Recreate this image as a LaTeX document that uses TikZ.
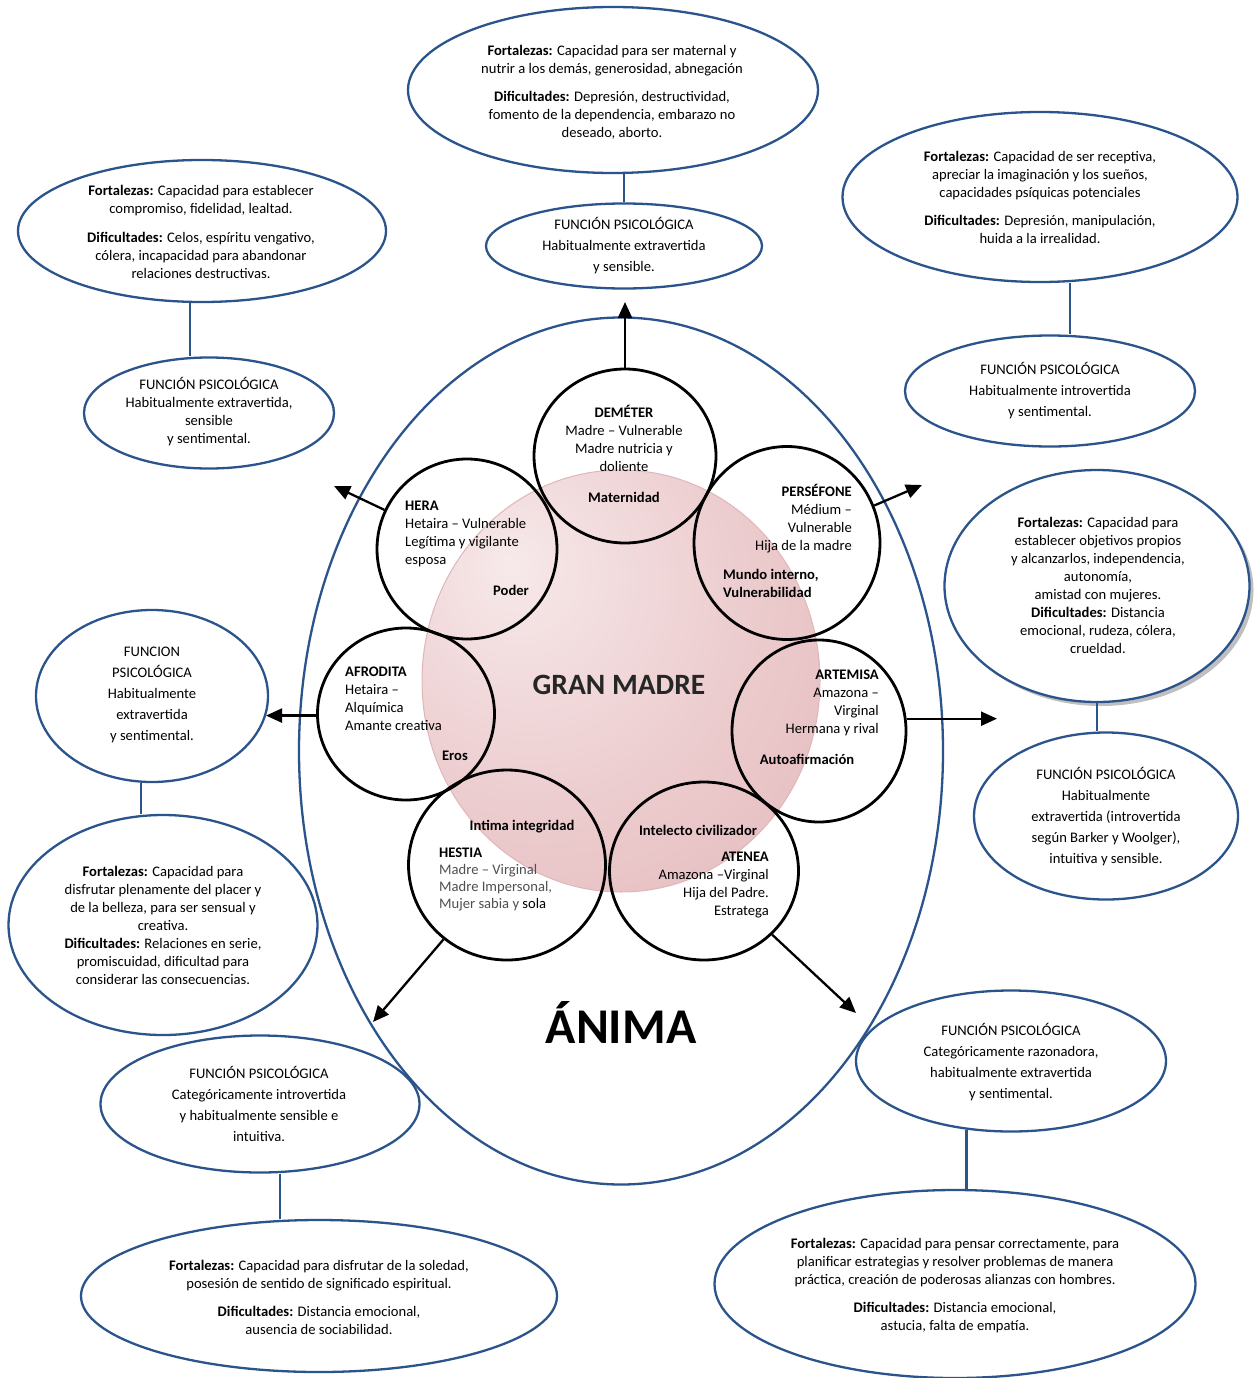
\documentclass[tikz,border=0pt]{standalone}
\usepackage{fontspec}
\setmainfont{Carlito}
\usetikzlibrary{shapes.geometric,arrows.meta,shadows}
\definecolor{ablue}{RGB}{44,84,140}
\definecolor{gmA}{RGB}{247,233,234}
\definecolor{gmB}{RGB}{236,204,206}
\definecolor{gmC}{RGB}{226,180,184}
\definecolor{gmEdge}{RGB}{224,182,185}
\definecolor{hgray}{RGB}{80,80,80}
\definecolor{titlegray}{RGB}{38,38,38}
\pgfdeclareradialshading{granmadre}{\pgfpoint{-14bp}{14bp}}{color(0bp)=(gmA); color(26bp)=(gmB); color(54bp)=(gmC); color(100bp)=(gmC)}

\begin{document}
\begin{tikzpicture}[x=1pt,y=-1pt,
  oval/.style={ellipse, draw=ablue, line width=2.3pt, inner sep=0pt},
  diosa/.style={ellipse, draw=black, line width=2.8pt, inner sep=0pt},
  link/.style={draw=ablue, line width=2.3pt},
  flecha/.style={draw=black, line width=2.3pt, -{Triangle[length=16pt,width=14pt]}},
  body/.style={align=center, inner sep=0pt, font=\fontsize{14.6}{18}\selectfont},
  func/.style={align=center, inner sep=0pt, font=\fontsize{14.6}{21}\selectfont},
  ctext/.style={inner sep=0pt, font=\fontsize{14.6}{18}\selectfont},
  clave/.style={inner sep=0pt, font=\fontsize{14.6}{18}\selectfont\bfseries},
]
\useasboundingbox[fill=white] (0,0) rectangle (1254,1378);

% ---- Ánima (outer ellipse) and Gran Madre (shaded core)
\node[oval, minimum width=644pt, minimum height=867pt] (anima) at (621,751) {};
\node[ellipse, inner sep=0pt, minimum width=398pt, minimum height=422pt,
      shade, shading=granmadre, draw=gmEdge, line width=1pt] (gm) at (621,681) {};
\node[inner sep=0pt, font=\fontsize{29.5}{34}\selectfont\bfseries, text=titlegray] (gmlabel) at (619,685) {GRAN MADRE};
\node[inner sep=0pt, font=\fontsize{50}{60}\selectfont\bfseries] (animalabel) at (621,1022) {ÁNIMA};

% ---- goddess circles
\node[diosa, minimum width=182pt, minimum height=174pt] (demeter)  at (625,456) {};
\node[diosa, minimum width=180pt, minimum height=180pt] (hera)     at (467,549) {};
\node[diosa, minimum width=186pt, minimum height=193pt] (persefone) at (787,543) {};
\node[diosa, minimum width=177pt, minimum height=172pt] (afrodita) at (406,714) {};
\node[diosa, minimum width=174pt, minimum height=182pt] (artemisa) at (819,731) {};
\node[diosa, minimum width=197pt, minimum height=190pt] (hestia)   at (507,865) {};
\node[diosa, minimum width=189pt, minimum height=178pt] (atenea)   at (704,871) {};

% ---- texts inside the circles
\node[ctext, align=center, anchor=north] (demtxt) at (624,405)
  {\textbf{DEMÉTER}\\Madre – Vulnerable\\Madre nutricia y\\doliente};
\node[clave] (demkey) at (624,497) {Maternidad};

\node[ctext, align=left, anchor=north west] (heratxt) at (405,501)
  {\textbf{HERA}\\Hetaira – Vulnerable\\Legítima y vigilante\\esposa};
\node[clave] (herakey) at (511,590) {Poder};

\node[ctext, align=right, anchor=north east] (pertxt) at (852,484)
  {\textbf{PERSÉFONE}\\Médium –\\Vulnerable\\Hija de la madre};
\node[clave, align=left, anchor=north west] (perkey) at (723,569) {Mundo interno,\\Vulnerabilidad};

\node[ctext, align=left, anchor=north west] (afrtxt) at (345,667)
  {\textbf{AFRODITA}\\Hetaira –\\Alquímica\\Amante creativa};
\node[clave] (afrkey) at (455,756) {Eros};

\node[ctext, align=right, anchor=north east] (arttxt) at (879,670)
  {\textbf{ARTEMISA}\\Amazona –\\Virginal\\Hermana y rival};
\node[clave] (artkey) at (807,759) {Autoafirmación};

\node[clave] (heskey) at (522,827) {Intima integridad};
\node[ctext, align=left, anchor=north west, font=\fontsize{14.6}{17}\selectfont] (hestxt) at (439,848)
  {\textbf{HESTIA}\\\textcolor{hgray}{Madre – Virginal}\\\textcolor{hgray}{Madre Impersonal,}\\\textcolor{hgray}{Mujer sabia y} sola};

\node[clave] (atekey) at (698,830) {Intelecto civilizador};
\node[ctext, align=right, anchor=north east] (atetxt) at (769,852)
  {\textbf{ATENEA}\\Amazona –Virginal\\Hija del Padre.\\Estratega};

% ---- Deméter
\node[oval, minimum width=410pt, minimum height=166pt] (demT) at (613,90) {};
\node[body] (demTt) at (612,92)
  {\textbf{Fortalezas:} Capacidad para ser maternal y\\nutrir a los demás, generosidad, abnegación\\[10pt]
   \textbf{Dificultades:} Depresión, destructividad,\\fomento de la dependencia, embarazo no\\deseado, aborto.};
\node[oval, minimum width=276pt, minimum height=85pt] (demF) at (624,246) {};
\node[func] (demFt) at (624,246) {FUNCIÓN PSICOLÓGICA\\Habitualmente extravertida\\y sensible.};
\draw[link] (demF.north) -- (demF.north |- demT.south);
\coordinate (demA) at (625,302);
\draw[flecha] (demeter.north) -- (demA);

% ---- Hera
\node[oval, minimum width=368pt, minimum height=142pt] (heraT) at (202,231) {};
\node[body] (heraTt) at (201,232)
  {\textbf{Fortalezas:} Capacidad para establecer\\compromiso, fidelidad, lealtad.\\[11pt]
   \textbf{Dificultades:} Celos, espíritu vengativo,\\cólera, incapacidad para abandonar\\relaciones destructivas.};
\node[oval, minimum width=250pt, minimum height=111pt] (heraF) at (209,413) {};
\node[body] (heraFt) at (209,412) {FUNCIÓN PSICOLÓGICA\\Habitualmente extravertida,\\sensible\\y sentimental.};
\draw[link] ([xshift=-12pt]heraT.south) -- ([xshift=-12pt]heraT.south |- heraF.north);
\coordinate (heraA) at (334,486);
\draw[flecha] (hera) -- (heraA);

% ---- Perséfone
\node[oval, minimum width=395pt, minimum height=170pt] (perT) at (1040,197) {};
\node[body] (perTt) at (1040,197)
  {\textbf{Fortalezas:} Capacidad de ser receptiva,\\apreciar la imaginación y los sueños,\\capacidades psíquicas potenciales\\[10pt]
   \textbf{Dificultades:} Depresión, manipulación,\\huida a la irrealidad.};
\node[oval, minimum width=290pt, minimum height=111pt] (perF) at (1050,391) {};
\node[func] (perFt) at (1050,391) {FUNCIÓN PSICOLÓGICA\\Habitualmente introvertida\\y sentimental.};
\draw[link] ([xshift=30pt]perT.south) -- ([xshift=30pt]perT.south |- perF.north);
\coordinate (perA) at (922,485);
\draw[flecha] (persefone) -- (perA);

% ---- Afrodita
\node[oval, minimum width=232pt, minimum height=172pt] (afrF) at (152,696) {};
\node[func] (afrFt) at (152,695) {FUNCION\\PSICOLÓGICA\\Habitualmente\\extravertida\\y sentimental.};
\node[oval, minimum width=309pt, minimum height=220pt] (afrT) at (163,925) {};
\node[body] (afrTt) at (163,925)
  {\textbf{Fortalezas:} Capacidad para\\disfrutar plenamente del placer y\\de la belleza, para ser sensual y\\creativa.\\
   \textbf{Dificultades:} Relaciones en serie,\\promiscuidad, dificultad para\\considerar las consecuencias.};
\draw[link] ([xshift=-11pt]afrF.south) -- ([xshift=-11pt]afrF.south |- afrT.north);
\coordinate (afrA) at (266,712);
\draw[flecha] (afrodita.181) -- (afrodita.181 -| afrA);

% ---- Artemisa
\node[oval, minimum width=305pt, minimum height=232pt, fill=white,
      drop shadow={shadow xshift=4pt, shadow yshift=-4pt, opacity=0.45, fill=black!55}] (artT) at (1097,586) {};
\node[body] (artTt) at (1098,585)
  {\textbf{Fortalezas:} Capacidad para\\establecer objetivos propios\\y alcanzarlos, independencia,\\autonomía,\\amistad con mujeres.\\
   \textbf{Dificultades:} Distancia\\emocional, rudeza, cólera,\\crueldad.};
\node[oval, minimum width=264pt, minimum height=167pt] (artF) at (1106,816) {};
\node[func] (artFt) at (1106,817) {FUNCIÓN PSICOLÓGICA\\Habitualmente\\extravertida (introvertida\\según Barker y Woolger),\\intuitiva y sensible.};
\draw[link] (artT.south) -- (artT.south |- artF.north);
\coordinate (artA) at (997,719);
\draw[flecha] (artemisa.8) -- (artemisa.8 -| artA);

% ---- Hestia
\node[oval, minimum width=319pt, minimum height=137pt] (hesF) at (260,1104) {};
\node[func] (hesFt) at (259,1104) {FUNCIÓN PSICOLÓGICA\\Categóricamente introvertida\\y habitualmente sensible e\\intuitiva.};
\node[oval, minimum width=476pt, minimum height=152pt] (hesT) at (319,1296) {};
\node[body] (hesTt) at (319,1297)
  {\textbf{Fortalezas:} Capacidad para disfrutar de la soledad,\\posesión de sentido de significado espiritual.\\[10pt]
   \textbf{Dificultades:} Distancia emocional,\\ausencia de sociabilidad.};
\draw[link] ([xshift=20pt]hesF.south) -- ([xshift=20pt]hesF.south |- hesT.north);
\coordinate (hesA) at (373,1022);
\draw[flecha] (hestia) -- (hesA);

% ---- Atenea
\node[oval, minimum width=310pt, minimum height=141pt] (ateF) at (1011,1061) {};
\node[func] (ateFt) at (1011,1062) {FUNCIÓN PSICOLÓGICA\\Categóricamente razonadora,\\habitualmente extravertida\\y sentimental.};
\node[oval, minimum width=481pt, minimum height=188pt] (ateT) at (955,1284) {};
\node[body] (ateTt) at (955,1286)
  {\textbf{Fortalezas:} Capacidad para pensar correctamente, para\\planificar estrategias y resolver problemas de manera\\práctica, creación de poderosas alianzas con hombres.\\[10pt]
   \textbf{Dificultades:} Distancia emocional,\\astucia, falta de empatía.};
\draw[link] (ateF.237) -- (ateF.237 |- ateT.north);
\coordinate (ateA) at (856,1013);
\draw[flecha] (atenea) -- (ateA);

\end{tikzpicture}
\end{document}
